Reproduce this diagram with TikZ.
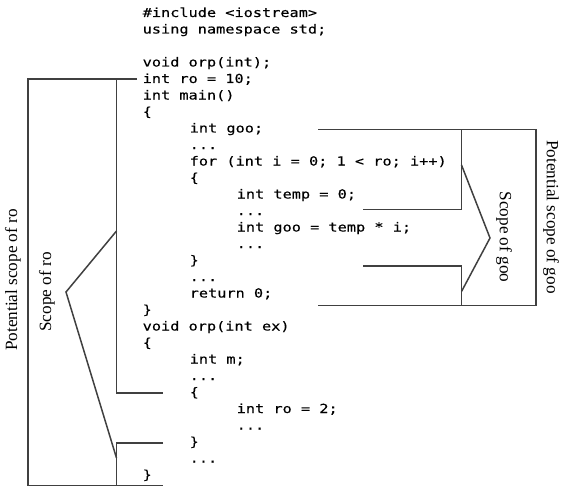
\documentclass[tikz,border=0pt]{standalone}
\usepackage{fontspec}
\setmainfont{Liberation Serif}
\newfontfamily\codefont[FakeStretch=1.22, FakeBold=0.3]{DejaVu Sans Mono}
\usepackage{tikz}
\usetikzlibrary{positioning}
\newcommand{\codeindent}{\hspace*{47pt}}
\tikzstyle{codetext} = [inner sep=0pt, anchor=base west, font={\codefont\fontsize{12.5}{16.5}\selectfont}]
\tikzstyle{scopelabel} = [inner sep=0pt, font={\fontsize{17.2}{20}\selectfont}]
\tikzstyle{bracket} = [line width=1.5pt, draw=black!75]

\begin{document}
\begin{tikzpicture}[x=1pt, y=-1pt]
    \useasboundingbox (0,0) rectangle (561,487);

    % Code
    \node (code) [codetext] at (142.5,17) {\begin{tabular}[t]{@{}l@{}}
\#include <iostream>\\
using namespace std;\\
\\
void orp(int);\\
int ro = 10;\\
int main()\\
\{\\
\codeindent int goo;\\
\codeindent ...\\
\codeindent for (int i = 0; 1 < ro; i++)\\
\codeindent \{\\
\codeindent\codeindent int temp = 0;\\
\codeindent\codeindent ...\\
\codeindent\codeindent int goo = temp * i;\\
\codeindent\codeindent ...\\
\codeindent \}\\
\codeindent ...\\
\codeindent return 0;\\
\}\\
void orp(int ex)\\
\{\\
\codeindent int m;\\
\codeindent ...\\
\codeindent \{\\
\codeindent\codeindent int ro = 2;\\
\codeindent\codeindent ...\\
\codeindent \}\\
\codeindent ...\\
\}
\end{tabular}};

    % Brackets for ro
    \draw [bracket] (137,79) -- (28,79) -- (28,485.5) -- (137,485.5);
    \draw [bracket] (116.5,79) -- (116.5,393) -- (163,393);
    \draw [bracket] (163,443) -- (116.5,443) -- (116.5,485.5) -- (163,485.5);
    \draw [bracket] (116.5,231) -- (66,292) -- (116.5,458);

    % Brackets for goo
    \draw [bracket] (318,129.5) -- (536,129.5) -- (536,305.5) -- (318,305.5);
    \draw [bracket] (461.5,129.5) -- (461.5,209.5) -- (363,209.5);
    \draw [bracket] (363,266) -- (461.5,266) -- (461.5,305.5);
    \draw [bracket] (461.5,165) -- (490,238) -- (461.5,291.5);

    % Labels
    \node (potro) [scopelabel, rotate=90] at (13,280) {Potential scope of ro};
    \node (scopero) [scopelabel, rotate=90] at (47,292) {Scope of ro};
    \node (scopegoo) [scopelabel, rotate=-90] at (504,237) {Scope of goo};
    \node (potgoo) [scopelabel, rotate=-90] at (551,217) {Potential scope of goo};

\end{tikzpicture}
\end{document}
